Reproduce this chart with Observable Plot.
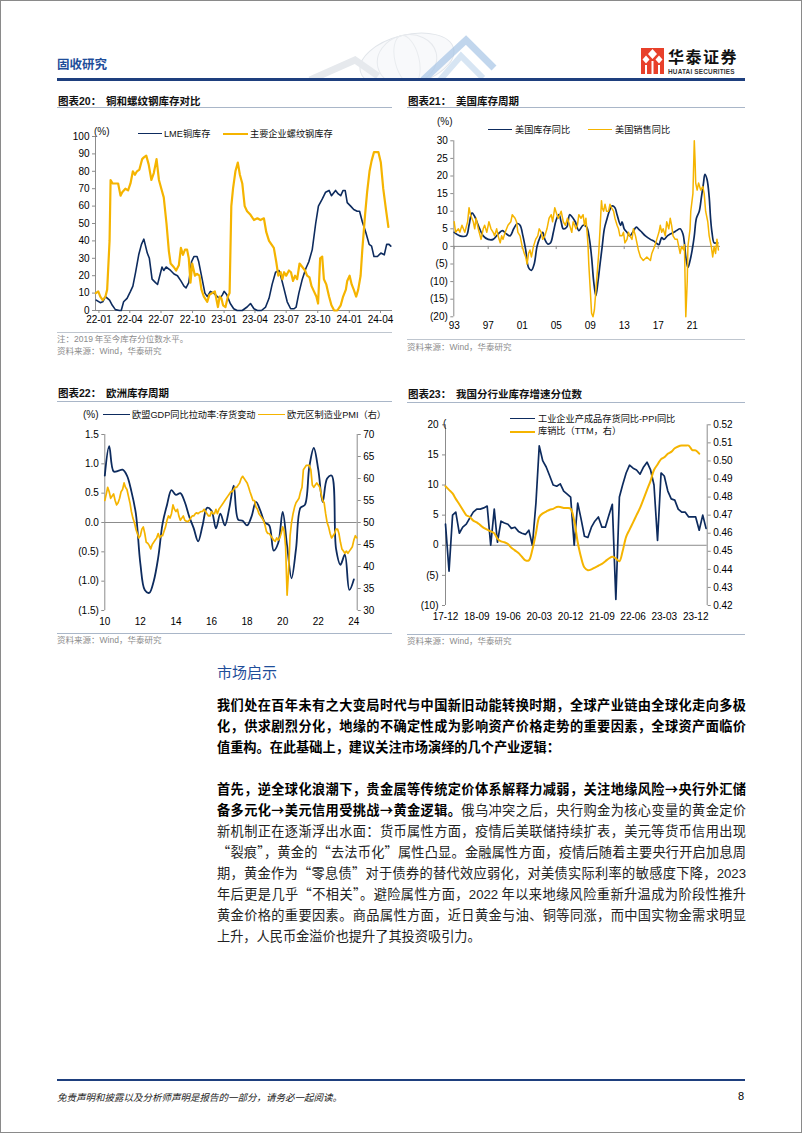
<!DOCTYPE html>
<html lang="zh-CN">
<head>
<meta charset="utf-8">
<script src="https://cdn.jsdelivr.net/npm/d3@7"></script>
<script src="https://cdn.jsdelivr.net/npm/@observablehq/plot@0.6"></script>
<style>
  html, body { margin:0; padding:0; background:#fff; }
  #page { position:relative; width:802px; height:1133px; overflow:hidden; background:#fff;
          font-family:"Noto Sans CJK SC","Liberation Sans",sans-serif; color:#000; }
  .a { position:absolute; white-space:pre; }
  .ttl { font-size:10.5px; font-weight:700; line-height:12px; color:#111; }
  .hr { position:absolute; height:0; border-top:1px solid #A9B6C8; }
  .src { font-size:8.5px; color:#8c8c8c; line-height:10px; }
  .lg { font-size:9.2px; line-height:11px; color:#111; }
  .sw { position:absolute; height:0; }
  .num { font-family:"Liberation Sans",Arial,sans-serif; }
  .chart { position:absolute; }
  .ln { position:absolute; left:217px; width:529px; font-size:13.2px; line-height:21px; color:#222; }
  .j { text-align:justify; text-align-last:justify; }
  .b { font-weight:700; color:#000; }
</style>
</head>
<body>
<div id="page">
  <!-- header -->
  <svg class="a" style="left:280px;top:28px" width="230" height="52">
    <ellipse cx="127" cy="32" rx="48" ry="25" transform="rotate(-14 127 32)" fill="#f8f9fb" stroke="#e1e5ea" stroke-width="1"/>
    <ellipse cx="127" cy="32" rx="30" ry="25" transform="rotate(-14 127 32)" fill="none" stroke="#e6e9ed" stroke-width="1"/>
    <ellipse cx="127" cy="32" rx="12" ry="25" transform="rotate(-14 127 32)" fill="none" stroke="#e9ecef" stroke-width="1"/>
    <polyline points="30,52 75,32 98,48" fill="none" stroke="#e6e9ed" stroke-width="7"/>
    <polyline points="143,52 186,12 214,40" fill="none" stroke="#a7c5e6" stroke-width="7" opacity="0.7"/>
    <polyline points="160,52 181,28 203,50" fill="none" stroke="#cddff0" stroke-width="6" opacity="0.8"/>
  </svg>
  <div class="a" style="left:57px;top:56px;font-size:12.5px;font-weight:700;color:#1F4E9A;line-height:16px">固收研究</div>
  <svg class="a" style="left:641px;top:48px" width="23" height="26">
    <rect width="23" height="26" fill="#E8402A"/>
    <polygon points="11.5,1 16,6 11.5,11 7,6" fill="#fff"/>
    <polygon points="5,7.5 8.5,11.5 5,15.5 1.5,11.5" fill="#fff"/>
    <polygon points="18,7.5 21.5,11.5 18,15.5 14.5,11.5" fill="#fff"/>
    <rect x="4" y="17" width="2" height="9" fill="#fff"/>
    <rect x="10.5" y="13" width="2" height="13" fill="#fff"/>
    <rect x="17" y="17" width="2" height="9" fill="#fff"/>
  </svg>
  <div class="a" style="left:668px;top:48px;font-size:16px;font-weight:700;line-height:17px;letter-spacing:1.5px;color:#111">华泰证券</div>
  <div class="a num" style="left:668px;top:67.5px;font-size:6.4px;font-weight:700;line-height:7px;letter-spacing:0.2px;color:#333">HUATAI SECURITIES</div>
  <div class="a" style="left:57px;top:78px;width:688px;height:2.5px;background:#1E3F7E"></div>

  <!-- chart 20 -->
  <div class="a ttl" style="left:58px;top:94.5px">图表<span class="num">20</span>：  铜和螺纹钢库存对比</div>
  <div class="hr" style="left:57px;top:107px;width:335px"></div>
  <div id="c20" class="chart" style="left:55px;top:115px"></div>
  <div class="a lg num" style="left:94px;top:125.5px;font-size:10px">(%)</div>
  <div class="sw" style="left:138px;top:132.5px;width:24px;border-top:1.6px solid #0D2B5E"></div>
  <div class="a lg" style="left:164px;top:127.5px"><span class="num">LME</span>铜库存</div>
  <div class="sw" style="left:223px;top:132.5px;width:25px;border-top:2px solid #F5B400"></div>
  <div class="a lg" style="left:250px;top:127.5px">主要企业螺纹钢库存</div>
  <div class="hr" style="left:57px;top:331.5px;width:335px;border-top-color:#bfc6cf"></div>
  <div class="a src" style="left:57px;top:333px">注：<span class="num">2019</span> 年至今库存分位数水平。</div>
  <div class="a src" style="left:57px;top:344.5px">资料来源：<span class="num">Wind</span>，华泰研究</div>

  <!-- chart 21 -->
  <div class="a ttl" style="left:408px;top:94.5px">图表<span class="num">21</span>：  美国库存周期</div>
  <div class="hr" style="left:407px;top:107px;width:338px"></div>
  <div id="c21" class="chart" style="left:405px;top:115px"></div>
  <div class="a lg num" style="left:437px;top:115.5px;font-size:10px">(%)</div>
  <div class="sw" style="left:488px;top:129px;width:24px;border-top:1.6px solid #0D2B5E"></div>
  <div class="a lg" style="left:515px;top:124px">美国库存同比</div>
  <div class="sw" style="left:588px;top:129px;width:24px;border-top:1.6px solid #F5B400"></div>
  <div class="a lg" style="left:615px;top:124px">美国销售同比</div>
  <div class="hr" style="left:407px;top:338.5px;width:338px;border-top-color:#bfc6cf"></div>
  <div class="a src" style="left:407px;top:341px">资料来源：<span class="num">Wind</span>，华泰研究</div>

  <!-- chart 22 -->
  <div class="a ttl" style="left:58px;top:387px">图表<span class="num">22</span>：  欧洲库存周期</div>
  <div class="hr" style="left:57px;top:400.5px;width:335px"></div>
  <div id="c22" class="chart" style="left:55px;top:420px"></div>
  <div class="a lg num" style="left:83px;top:408.5px;font-size:10px">(%)</div>
  <div class="sw" style="left:103px;top:414px;width:27px;border-top:1.6px solid #0D2B5E"></div>
  <div class="a lg" style="left:132px;top:408.5px">欧盟<span class="num">GDP</span>同比拉动率<span class="num">:</span>存货变动</div>
  <div class="sw" style="left:258px;top:414px;width:27px;border-top:1.6px solid #F5B400"></div>
  <div class="a lg" style="left:287px;top:408.5px">欧元区制造业<span class="num">PMI</span>（右）</div>
  <div class="hr" style="left:57px;top:632.5px;width:335px"></div>
  <div class="a src" style="left:57px;top:634px">资料来源：<span class="num">Wind</span>，华泰研究</div>

  <!-- chart 23 -->
  <div class="a ttl" style="left:408px;top:388px">图表<span class="num">23</span>：  我国分行业库存增速分位数</div>
  <div class="hr" style="left:407px;top:401.5px;width:338px"></div>
  <div id="c23" class="chart" style="left:405px;top:415px"></div>
  <div class="a lg num" style="left:443px;top:417.5px;font-size:10px">(</div>
  <div class="sw" style="left:510px;top:418px;width:25px;border-top:1.8px solid #0D2B5E"></div>
  <div class="a lg" style="left:538px;top:412.5px">工业企业产成品存货同比<span class="num">-PPI</span>同比</div>
  <div class="sw" style="left:510px;top:430.5px;width:25px;border-top:2px solid #F5B400"></div>
  <div class="a lg" style="left:538px;top:425px">库销比（<span class="num">TTM</span>，右）</div>
  <div class="hr" style="left:407px;top:633.5px;width:338px"></div>
  <div class="a src" style="left:407px;top:635px">资料来源：<span class="num">Wind</span>，华泰研究</div>

  <!-- text section -->
  <div class="a" style="left:217px;top:662px;font-size:15px;line-height:20px;color:#1F4E9A">市场启示</div>
  <div class="ln j b" style="top:693.5px">我们处在百年未有之大变局时代与中国新旧动能转换时期，全球产业链由全球化走向多极</div>
  <div class="ln j b" style="top:714.5px">化，供求剧烈分化，地缘的不确定性成为影响资产价格走势的重要因素，全球资产面临价</div>
  <div class="ln b" style="top:735.5px">值重构。在此基础上，建议关注市场演绎的几个产业逻辑：</div>

  <div class="ln j b" style="top:777.5px">首先，逆全球化浪潮下，贵金属等传统定价体系解释力减弱，关注地缘风险→央行外汇储</div>
  <div class="ln j" style="top:798.5px"><span class="b">备多元化→美元信用受挑战→黄金逻辑。</span>俄乌冲突之后，央行购金为核心变量的黄金定价</div>
  <div class="ln j" style="top:819.5px">新机制正在逐渐浮出水面：货币属性方面，疫情后美联储持续扩表，美元等货币信用出现</div>
  <div class="ln j" style="top:840.5px">“裂痕”，黄金的“去法币化”属性凸显。金融属性方面，疫情后随着主要央行开启加息周</div>
  <div class="ln j" style="top:861.5px">期，黄金作为“零息债”对于债券的替代效应弱化，对美债实际利率的敏感度下降，<span class="num">2023</span></div>
  <div class="ln j" style="top:882.5px">年后更是几乎“不相关”。避险属性方面，<span class="num">2022</span> 年以来地缘风险重新升温成为阶段性推升</div>
  <div class="ln j" style="top:903.5px">黄金价格的重要因素。商品属性方面，近日黄金与油、铜等同涨，而中国实物金需求明显</div>
  <div class="ln" style="top:924.5px">上升，人民币金溢价也提升了其投资吸引力。</div>

  <!-- footer -->
  <div class="a" style="left:57px;top:1079px;width:688px;height:2px;background:#1E3F7E"></div>
  <div class="a" style="left:57px;top:1091px;font-size:9.5px;line-height:12px;font-style:italic;color:#222">免责声明和披露以及分析师声明是报告的一部分，请务必一起阅读。</div>
  <div class="a num" style="left:738px;top:1090px;font-size:11px;line-height:13px">8</div>

  <div style="position:absolute;left:0;top:0;width:802px;height:1133px;box-sizing:border-box;border:1px solid #8a8a8a;pointer-events:none"></div>
</div>

<script>
// ---------------- data ----------------
// Chart 20: copper (LME) and rebar inventory percentile (%)
const lmeCopper = [
  ["2021-12-24",6],["2022-01-05",4.5],["2022-01-12",5],["2022-01-20",8],["2022-02-01",6],["2022-02-09",3],
  ["2022-02-18",0.5],["2022-03-02",0],["2022-03-07",0],["2022-03-14",5],["2022-03-24",7],["2022-04-03",11],
  ["2022-04-10",14],["2022-04-18",22],["2022-04-27",32],["2022-05-05",38],["2022-05-12",41],["2022-05-22",33],
  ["2022-05-28",30],["2022-06-05",18],["2022-06-15",16],["2022-06-21",15],["2022-06-30",22],["2022-07-04",25],
  ["2022-07-09",23],["2022-07-16",25],["2022-07-29",23],["2022-08-08",21],["2022-08-18",20],["2022-08-28",17],
  ["2022-09-06",14],["2022-09-12",13],["2022-09-20",16],["2022-09-28",28],["2022-10-05",31],["2022-10-14",31],
  ["2022-10-19",28],["2022-10-29",18],["2022-11-06",10],["2022-11-13",8],["2022-11-22",11],["2022-12-02",10],
  ["2022-12-12",8],["2022-12-20",7],["2022-12-27",9],["2023-01-01",11],["2023-01-09",9],["2023-01-19",4],
  ["2023-01-29",1],["2023-02-08",0],["2023-02-23",0],["2023-03-09",2],["2023-03-19",4],["2023-03-29",1],
  ["2023-04-08",0],["2023-04-20",0],["2023-05-02",2],["2023-05-12",7],["2023-05-21",15],["2023-05-31",22],
  ["2023-06-10",23],["2023-06-15",20],["2023-06-24",13],["2023-07-04",5],["2023-07-14",1],["2023-07-24",1],
  ["2023-07-30",2],["2023-08-07",10],["2023-08-17",18],["2023-08-27",24],["2023-09-05",28],["2023-09-15",35],
  ["2023-09-25",50],["2023-10-03",60],["2023-10-14",64],["2023-10-24",68],["2023-11-03",69],["2023-11-10",66],
  ["2023-11-22",69],["2023-11-30",67],["2023-12-07",66],["2023-12-14",69],["2023-12-20",69],["2023-12-26",62],
  ["2024-01-05",60],["2024-01-14",58],["2024-01-24",57],["2024-01-31",57],["2024-02-08",51],["2024-02-18",45],
  ["2024-02-28",38],["2024-03-06",37],["2024-03-13",31],["2024-03-23",31],["2024-04-02",33],["2024-04-12",32],
  ["2024-04-19",38],["2024-04-26",38],["2024-05-01",37]
];
const rebarStock = [
  ["2021-12-23",10],["2021-12-30",11],["2022-01-05",8],["2022-01-12",6],["2022-01-20",8],["2022-01-25",12],
  ["2022-02-01",40],["2022-02-04",75],["2022-02-10",73],["2022-02-18",73],["2022-02-26",73],["2022-03-05",66],
  ["2022-03-10",68],["2022-03-19",70],["2022-03-27",69],["2022-04-03",73],["2022-04-10",80],["2022-04-16",78],
  ["2022-04-22",80],["2022-04-29",81],["2022-05-07",87],["2022-05-12",88],["2022-05-19",89],["2022-05-26",84],
  ["2022-06-03",75],["2022-06-10",79],["2022-06-18",87],["2022-06-25",75],["2022-07-02",70],["2022-07-09",65],
  ["2022-07-17",50],["2022-07-24",34],["2022-07-29",27],["2022-08-07",25],["2022-08-14",23],["2022-08-22",26],
  ["2022-08-28",36],["2022-09-03",32],["2022-09-09",35],["2022-09-15",35],["2022-09-20",30],["2022-09-25",16],
  ["2022-09-30",27],["2022-10-08",20],["2022-10-14",21],["2022-10-21",20],["2022-10-27",12],["2022-11-03",8],
  ["2022-11-13",5],["2022-11-19",9],["2022-11-27",10],["2022-12-05",11],["2022-12-10",6],["2022-12-14",2],
  ["2022-12-19",8],["2022-12-24",7],["2022-12-29",3],["2023-01-05",2],["2023-01-12",8],["2023-01-17",10],
  ["2023-01-22",60],["2023-01-27",70],["2023-02-03",80],["2023-02-10",85],["2023-02-16",78],["2023-02-23",73],
  ["2023-03-02",60],["2023-03-09",57],["2023-03-19",55],["2023-03-29",52],["2023-04-08",53],["2023-04-17",52],
  ["2023-04-27",53],["2023-05-04",45],["2023-05-12",40],["2023-05-19",38],["2023-05-26",36],["2023-06-02",28],
  ["2023-06-08",20],["2023-06-15",22],["2023-06-20",18],["2023-06-25",22],["2023-07-01",20],["2023-07-09",23],
  ["2023-07-15",22],["2023-07-21",17],["2023-07-27",20],["2023-08-02",18],["2023-08-09",27],["2023-08-17",25],
  ["2023-08-25",23],["2023-08-31",20],["2023-09-07",19],["2023-09-13",14],["2023-09-20",11],["2023-09-27",8],
  ["2023-10-02",4],["2023-10-08",30],["2023-10-14",31],["2023-10-19",18],["2023-10-26",15],["2023-11-03",8],
  ["2023-11-10",3],["2023-11-18",0],["2023-11-27",0],["2023-12-07",3],["2023-12-14",8],["2023-12-22",12],
  ["2023-12-26",17],["2024-01-02",20],["2024-01-08",15],["2024-01-14",12],["2024-01-21",8],["2024-01-27",12],
  ["2024-02-03",20],["2024-02-08",35],["2024-02-16",55],["2024-02-22",68],["2024-02-29",80],["2024-03-06",86],
  ["2024-03-13",91],["2024-03-20",91],["2024-03-26",91],["2024-04-02",85],["2024-04-09",70],["2024-04-17",58],
  ["2024-04-24",48]
];
const c20XTicks = ["2022-01","2022-04","2022-07","2022-10","2023-01","2023-04","2023-07","2023-10","2024-01","2024-04"];
const c20YTicks = [0,10,20,30,40,50,60,70,80,90,100];

// Chart 21: US inventory / sales YoY (%)
const usInventory = [
  ["1993-01",4],["1993-09",3],["1994-06",3],["1994-10",6],["1995-02",9.5],["1995-06",8.5],["1995-11",6],
  ["1996-06",3],["1997-01",2],["1997-08",2],["1998-03",3.5],["1998-09",4.5],["1999-03",3.5],["1999-08",3],
  ["2000-01",5],["2000-06",6.5],["2000-10",6],["2001-02",3],["2001-06",-1],["2001-10",-6],["2002-02",-6.8],
  ["2002-06",-5],["2002-10",0],["2003-02",2.5],["2003-06",4],["2003-09",2],["2004-01",0.7],["2004-05",1],
  ["2004-09",4],["2005-01",7.5],["2005-05",9],["2005-08",7],["2005-11",5],["2006-04",5.5],["2006-08",9],
  ["2006-11",8.5],["2007-04",7],["2007-09",4.5],["2008-03",6],["2008-08",5.5],["2008-12",2],["2009-03",-3],
  ["2009-06",-10],["2009-09",-14],["2009-12",-10],["2010-03",-5],["2010-06",0],["2010-09",5],["2011-01",8],
  ["2011-04",10],["2011-08",11.5],["2011-12",11],["2012-03",9],["2012-08",6],["2012-10",7],["2013-01",5],
  ["2013-05",4],["2013-09",3],["2014-01",4],["2014-06",5.5],["2014-09",5],["2015-02",4],["2015-07",3],
  ["2016-02",2],["2016-07",1.5],["2016-10",1],["2017-02",0.5],["2017-04",1.5],["2017-06",2.5],["2017-09",2],
  ["2018-02",3],["2018-06",3.5],["2018-11",4],["2019-03",4.5],["2019-08",5],["2019-12",3.5],["2020-02",1],
  ["2020-04",-3],["2020-07",-6],["2020-10",-4],["2021-01",-1],["2021-04",3],["2021-07",8],["2021-11",10],
  ["2022-02",14],["2022-05",18],["2022-07",20.5],["2022-10",19],["2023-01",14],["2023-03",8],["2023-05",4],
  ["2023-08",1],["2023-11",1],["2024-01",1]
];
const usSales = [
  ["1993-01",7],["1993-03",4],["1993-07",5],["1993-09",4],["1993-12",6],["1994-04",4],["1994-08",7],["1994-10",11],
  ["1994-12",9],["1995-04",7],["1995-06",5],["1995-08",8],["1995-11",5],["1996-03",2],["1996-06",5],["1996-08",6],
  ["1996-11",4],["1997-02",7],["1997-05",5],["1997-08",4],["1997-10",3],["1998-01",5],["1998-03",3],["1998-06",1],
  ["1998-08",3],["1998-10",2],["1999-01",4],["1999-05",6],["1999-09",7],["1999-11",9],["2000-03",8],["2000-05",7],
  ["2000-07",4],["2000-10",3],["2001-01",0],["2001-04",-2],["2001-06",-3],["2001-08",-5],["2001-10",-2],["2001-12",-1],
  ["2002-02",-3],["2002-05",0],["2002-08",2],["2002-11",3],["2003-01",5],["2003-04",4],["2003-06",2],["2003-09",3],
  ["2003-12",5],["2004-03",8],["2004-06",9],["2004-08",7],["2004-11",11],["2005-02",9],["2005-04",8],["2005-08",10],
  ["2005-11",7],["2006-02",6],["2006-05",8],["2006-08",6],["2006-11",4],["2007-01",7],["2007-05",5],["2007-07",6],
  ["2007-09",9],["2007-12",8],["2008-03",9],["2008-05",6],["2008-07",8],["2008-09",3],["2008-10",0],["2008-11",-5],
  ["2009-01",-12],["2009-03",-19],["2009-05",-20],["2009-07",-18],["2009-10",-10],["2010-01",-2],["2010-03",5],
  ["2010-05",13],["2010-06",11],["2010-08",10],["2010-10",12],["2010-12",10],["2011-03",10],["2011-05",12],
  ["2011-07",11],["2011-10",10],["2011-12",8],["2012-03",6],["2012-05",5],["2012-07",3],["2012-10",3],["2012-12",4],
  ["2013-02",1],["2013-05",2],["2013-07",4],["2013-09",3],["2013-12",2],["2014-02",5],["2014-05",3],["2014-07",1],
  ["2014-09",-1],["2014-12",-3],["2015-04",-4],["2015-09",-3],["2016-02",-4],["2016-04",-2],["2016-08",0],
  ["2016-11",2],["2017-02",4],["2017-04",6],["2017-06",4],["2017-08",5],["2017-11",3],["2018-01",7],["2018-04",5],
  ["2018-06",8],["2018-08",6],["2018-10",3],["2019-01",2],["2019-04",2],["2019-06",0],["2019-08",-2],["2019-10",0],
  ["2020-01",-1],["2020-02",0.5],["2020-04",-20],["2020-06",-10],["2020-07",0],["2020-10",5],["2020-11",10],
  ["2021-02",15],["2021-04",30],["2021-05",25],["2021-06",18],["2021-08",16],["2021-10",18],["2022-01",16],
  ["2022-04",17],["2022-06",15],["2022-08",10],["2022-11",7],["2023-01",3],["2023-04",0],["2023-06",-3],
  ["2023-08",0],["2023-10",-2],["2023-12",2],["2024-02",-1]
];
const c21XTicks = ["1993","1997","2001","2005","2009","2013","2017","2021"];
const c21YTicks = [30,25,20,15,10,5,0,-5,-10,-15,-20];

// Chart 22: EU GDP contribution of inventories (quarterly, %) and Eurozone manufacturing PMI (monthly, right)
const euGdpStart = "2010-01";
const euGdpInventory = [0.8,1.3,0.87,0.88,0.9,0.8,0.53,0.15,-0.7,-1.15, -1.2,-1.0,-0.6,-0.02,0.3,0.55,0.47,0.5,0.35,0.1,
  -0.1,-0.32,-0.05,0.25,0.2,-0.1,0.15,-0.05,0.25,0.63, 0.05,0.03,-0.05,0.1,0.35,0.2,0.0,-0.05,-0.48,-0.35,
  0.18,-0.4,-0.95,-0.45,0.25,0.3,0.95,1.27,0.9,0.35, 0.75,0.8,-0.45,-0.72,-0.55,-1.15,-0.97];
const euPmiStart = "2010-01";
const euPmi = [
  55,56.5,58,57,55.5,56,56.5,55,54,54.5,55.5,57,
  57.5,59,58,57.5,56,54.5,52.5,51,50,48.5,47.5,46.5,
  47,48.5,49,47.5,45.5,45.3,44.8,44,45,45.5,46,46.5,
  47.5,46.5,47,47,48,49,50.5,51.5,51,52,54,53,
  52.5,53,51.5,50.5,51,51.5,50.5,50.3,50.2,50.5,51,51.5,
  51.5,52,52.2,52,52.3,52.5,52.5,53,52.5,52,51.5,51.5,
  52.5,52,52,53,52,53,53.5,54,54.5,55,55.5,56,
  56.5,57,57,57.5,58,58,58.5,59,60,60.5,60,59.5,
  59,58,57,56,55,55,53.5,53,52,51.5,51,50.5,
  49.5,48,47.5,47.5,47,46.5,46,45.7,46.5,46,46.5,47.5,
  49,48,44.5,33.5,39,47,50,52,53.5,54.5,55,55.5,
  57,58,62,62.5,63,63,63,62,58.5,58,58.5,59,
  58.5,58,56.5,55,54.5,52,50,49,47.5,46.5,47,47.5,
  48.5,48.5,47.5,45.5,44,43.5,43,43.5,43,43.5,44,44.5,
  46,47,46.5
];
const c22XTicks = ["2010","2012","2014","2016","2018","2020","2022","2024"];
const c22YLeft = [1.5,1.0,0.5,0,-0.5,-1.0,-1.5];
const c22YRight = [70,65,60,55,50,45,40,35,30];

// Chart 23: China finished-goods inventory YoY minus PPI YoY (%) and inventory/sales ratio (TTM, right)
const cnStart = "2017-12";
const cnInvMinusPpi = [3.5,-4.3,5,5.5,2,3,3.5,4.5,5.5,6, 6,6.2,6.5,0,6,0.5,4,3.7,3.5,2.8,
  3,2.3,2,1.8,2.5,0,7,16.5,14,13, 11.5,10,9.8,10.2,9,8.5,8,0,7,4.5,
  1.5,1.3,3,4,4.7,3,3,5,6.8,-9, 8,10,12,13.3,12.8,12.5,11.8,13,13.8,12.5,
  10,0.8,12,11.5,9,7.7,7.5,6,5.5,5.5, 4.7,4.7,4.7,2.5,5,2.8];
const cnInvSalesRatio = [0.486,0.484,0.482,0.479,0.476,0.473,0.470,0.469,0.467,0.466,
  0.4645,0.463,0.462,0.461,0.460,0.457,0.4555,0.455,0.454,0.452,
  0.4505,0.449,0.447,0.445,0.445,0.451,0.460,0.469,0.471,0.472,
  0.473,0.4735,0.4745,0.4745,0.474,0.474,0.4735,0.467,0.455,0.447,
  0.441,0.4395,0.440,0.441,0.442,0.443,0.4445,0.446,0.447,0.446,
  0.4445,0.450,0.458,0.462,0.466,0.470,0.474,0.479,0.484,0.489,
  0.495,0.498,0.501,0.502,0.504,0.505,0.507,0.508,0.5085,0.5085,
  0.5085,0.506,0.5058,0.504];
const c23XTicks = ["2017-12","2018-09","2019-06","2020-03","2020-12","2021-09","2022-06","2023-03","2023-12"];
const c23YLeft = [20,15,10,5,0,-5,-10];
const c23YRight = [0.52,0.51,0.50,0.49,0.48,0.47,0.46,0.45,0.44,0.43,0.42];

// ---------------- helpers ----------------
const NAVY = "#0D2B5E", GOLD = "#F5B400", AX = "#8c8c8c";
const FONT = "'Liberation Sans', Arial, 'Noto Sans CJK SC', sans-serif";
const D = s => new Date((s.length === 4 ? s + "-01-01" : s.length === 7 ? s + "-01" : s) + "T00:00:00Z");
const monthly = (start, arr) => arr.map((v, i) => ({date: d3.utcMonth.offset(D(start), i), v}));
const quarterly = (start, arr) => arr.map((v, i) => ({date: d3.utcMonth.offset(D(start), 3 * i), v}));
const pairs = arr => arr.map(([d, v]) => ({date: D(d), v}));
const paren = digits => d => d < 0 ? `(${(-d).toFixed(digits)})` : (+d).toFixed(digits);
function base(w, h, [t, r, b, l]) {
  return {width: w, height: h, marginTop: t, marginRight: r, marginBottom: b, marginLeft: l,
    style: {fontFamily: FONT, fontSize: "10px", color: "#000", background: "transparent", overflow: "visible"}};
}

// ---------------- chart 20 ----------------
{
  const dom = [D("2021-12-22"), D("2024-05-06")];
  const p = Plot.plot({
    ...base(345, 230, [21, 8, 35, 40]),
    x: {type: "utc", domain: dom},
    y: {domain: [0, 100]},
    marks: [
      Plot.ruleX([dom[0]], {y1: 0, y2: 100, stroke: AX}),
      Plot.ruleY([0], {stroke: AX}),
      Plot.axisY(c20YTicks, {tickSize: 3, tickPadding: 3, stroke: AX, fill: "#000", label: null}),
      Plot.axisX(c20XTicks.map(D), {tickSize: 3, tickPadding: 2, stroke: AX, fill: "#000",
        tickFormat: d3.utcFormat("%y-%m"), label: null}),
      Plot.line(pairs(lmeCopper), {x: "date", y: "v", stroke: NAVY, strokeWidth: 1.6}),
      Plot.line(pairs(rebarStock), {x: "date", y: "v", stroke: GOLD, strokeWidth: 2.2})
    ]
  });
  document.getElementById("c20").append(p);
}

// ---------------- chart 21 ----------------
{
  const dom = [D("1992-12-15"), D("2024-05-01")];
  const p = Plot.plot({
    ...base(345, 225, [25.3, 30, 23.7, 48.3]),
    x: {type: "utc", domain: dom},
    y: {domain: [-20, 30]},
    marks: [
      Plot.ruleX([dom[0]], {y1: -20, y2: 30, stroke: AX}),
      Plot.ruleY([0], {stroke: AX}),
      Plot.ruleX(c21XTicks.map(D), {y1: 0, y2: -0.9, stroke: AX}),
      Plot.axisY(c21YTicks, {tickSize: 3, tickPadding: 3, stroke: AX, fill: "#000", tickFormat: paren(0), label: null}),
      Plot.axisX(c21XTicks.map(D), {tickSize: 0, tickPadding: 5, fill: "#000", tickFormat: d3.utcFormat("%y"), label: null}),
      Plot.line(pairs(usInventory), {x: "date", y: "v", stroke: NAVY, strokeWidth: 1.7, curve: "catmull-rom"}),
      Plot.line(pairs(usSales), {x: "date", y: "v", stroke: GOLD, strokeWidth: 1.5})
    ]
  });
  document.getElementById("c21").append(p);
}

// ---------------- chart 22 ----------------
{
  const dom = [D("2010-01-01"), D("2024-03-10")];
  const pmiToY = p => (p - 50) / 20 * 1.5;
  const p = Plot.plot({
    ...base(345, 212, [14, 43.3, 22, 49.3]),
    x: {type: "utc", domain: dom},
    y: {domain: [-1.5, 1.5]},
    marks: [
      Plot.ruleX([dom[0]], {y1: -1.5, y2: 1.5, stroke: AX}),
      Plot.ruleX([dom[1]], {y1: -1.5, y2: 1.5, stroke: AX}),
      Plot.ruleY([0], {stroke: AX}),
      Plot.axisY(c22YLeft, {anchor: "left", tickSize: 3, tickPadding: 3, stroke: AX, fill: "#000", tickFormat: paren(1), label: null}),
      Plot.axisY(c22YRight, {anchor: "right", y: pmiToY, tickSize: 3, tickPadding: 3, stroke: AX, fill: "#000",
        tickFormat: d => String(d), label: null}),
      Plot.axisX(c22XTicks.map(D), {tickSize: 0, tickPadding: 7, fill: "#000", tickFormat: d3.utcFormat("%y"), label: null}),
      Plot.line(quarterly(euGdpStart, euGdpInventory), {x: "date", y: "v", stroke: NAVY, strokeWidth: 1.8, curve: "catmull-rom"}),
      Plot.line(monthly(euPmiStart, euPmi), {x: "date", y: d => pmiToY(d.v), stroke: GOLD, strokeWidth: 1.7})
    ]
  });
  document.getElementById("c22").append(p);
}

// ---------------- chart 23 ----------------
{
  const dom = [D("2017-12-01"), D("2024-03-11")];
  const rToY = r => -10 + (r - 0.42) * 300;
  const p = Plot.plot({
    ...base(345, 215, [9.3, 43.3, 25, 40]),
    x: {type: "utc", domain: dom},
    y: {domain: [-10, 20]},
    marks: [
      Plot.ruleX([dom[0]], {y1: -10, y2: 20, stroke: AX}),
      Plot.ruleX([dom[1]], {y1: -10, y2: 20, stroke: AX}),
      Plot.ruleY([0], {stroke: AX}),
      Plot.axisY(c23YLeft, {anchor: "left", tickSize: 3, tickPadding: 4, stroke: AX, fill: "#000", tickFormat: paren(0), label: null}),
      Plot.axisY(c23YRight, {anchor: "right", y: rToY, tickSize: 3, tickPadding: 3, stroke: AX, fill: "#000",
        tickFormat: d => d.toFixed(2), label: null}),
      Plot.axisX(c23XTicks.map(D), {tickSize: 0, tickPadding: 7, fill: "#000", tickFormat: d3.utcFormat("%y-%m"), label: null}),
      Plot.line(monthly(cnStart, cnInvMinusPpi), {x: "date", y: "v", stroke: NAVY, strokeWidth: 1.7}),
      Plot.line(monthly(cnStart, cnInvSalesRatio), {x: "date", y: d => rToY(d.v), stroke: GOLD, strokeWidth: 2, curve: "catmull-rom"})
    ]
  });
  document.getElementById("c23").append(p);
}
</script>
</body>
</html>
